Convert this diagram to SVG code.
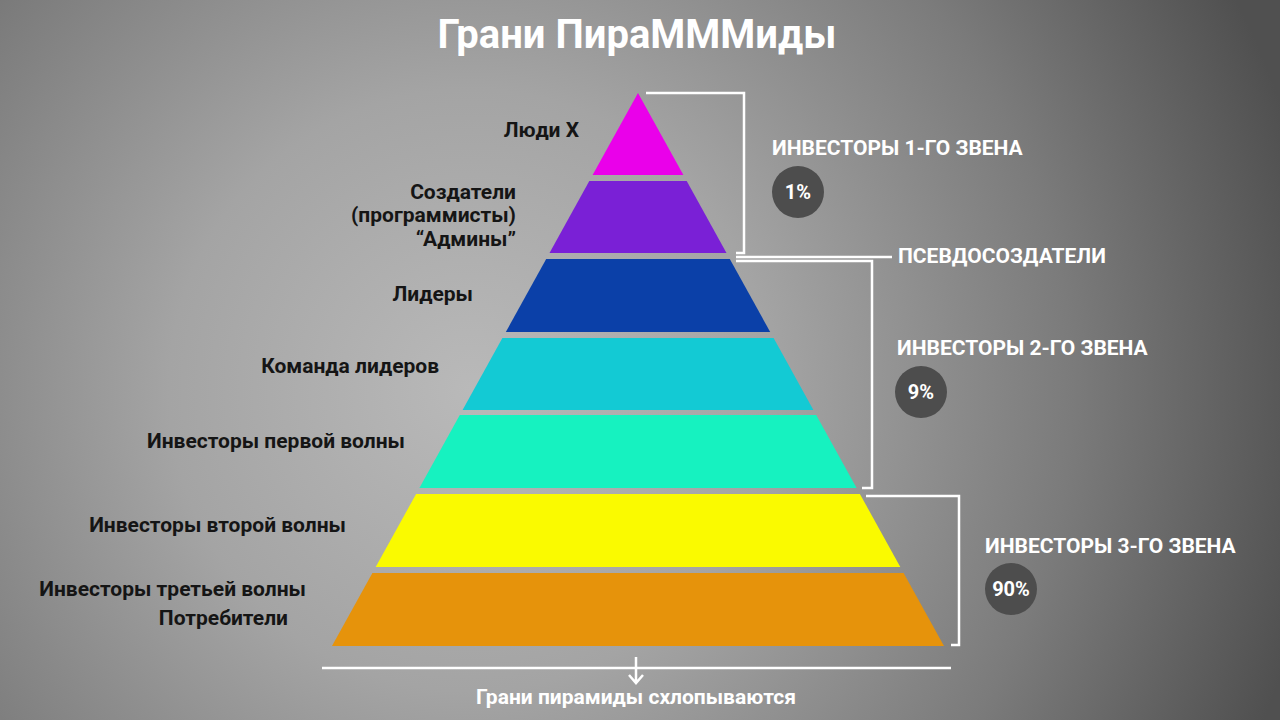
<svg xmlns="http://www.w3.org/2000/svg" width="1280" height="720" viewBox="0 0 1280 720">
  <defs>
    <radialGradient id="bg" gradientUnits="userSpaceOnUse" cx="470" cy="390" r="860">
      <stop offset="0" stop-color="#b9b9b9"/>
      <stop offset="0.35" stop-color="#a4a4a4"/>
      <stop offset="0.7" stop-color="#7b7b7b"/>
      <stop offset="1" stop-color="#505050"/>
    </radialGradient>
    <style>
      .lbl { font-family: Roboto, "Liberation Sans", sans-serif; font-weight: bold; font-size: 21px; fill: #151515; text-anchor: end; }
      .wl { font-family: Roboto, "Liberation Sans", sans-serif; font-weight: bold; font-size: 21px; fill: #ffffff; }
      .pct { font-family: Roboto, "Liberation Sans", sans-serif; font-weight: bold; font-size: 20px; fill: #ffffff; text-anchor: middle; }
      .circ { fill: #4d4d4d; }
      .br { fill: none; stroke: #ffffff; stroke-width: 2.5; }
    </style>
  </defs>
  <rect width="1280" height="720" fill="url(#bg)"/>

  <text x="637" y="48" font-family="Roboto, 'Liberation Sans', sans-serif" font-weight="bold" font-size="40" fill="#ffffff" text-anchor="middle">Грани ПираМММиды</text>

  <g id="pyramid">
    <g id="tier1"><polygon points="638,93 683.4,175 592.6,175" fill="#ea00ea"/></g>
    <g id="tier2"><polygon points="589.3,181 686.7,181 726.5,253 549.5,253" fill="#7a20d6"/></g>
    <g id="tier3"><polygon points="546.2,259 729.8,259 770.2,332 505.8,332" fill="#0b40a8"/></g>
    <g id="tier4"><polygon points="502.4,338 773.6,338 813.4,410 462.6,410" fill="#13cad4"/></g>
    <g id="tier5"><polygon points="459.8,415 816.2,415 856.6,488 419.4,488" fill="#16f2c0"/></g>
    <g id="tier6"><polygon points="416.1,494 859.9,494 900.3,567 375.7,567" fill="#fafa00"/></g>
    <g id="tier7"><polygon points="372.4,573 903.6,573 944,646 332,646" fill="#e6930b"/></g>
  </g>

  <g id="left-labels">
    <text class="lbl" x="579" y="137">Люди X</text>
    <text class="lbl" x="516" y="199">Создатели</text>
    <text class="lbl" x="516" y="222">(программисты)</text>
    <text class="lbl" x="516" y="246">“Админы”</text>
    <text class="lbl" x="473" y="301">Лидеры</text>
    <text class="lbl" x="439" y="373">Команда лидеров</text>
    <text class="lbl" x="405" y="448">Инвесторы первой волны</text>
    <text class="lbl" x="346" y="532">Инвесторы второй волны</text>
    <text class="lbl" x="306" y="596">Инвесторы третьей волны</text>
    <text class="lbl" x="288" y="625">Потребители</text>
  </g>

  <g id="connectors">
    <path class="br" d="M646,93 H744 V253 H736"/>
    <path class="br" d="M736,257 H892"/>
    <path class="br" d="M736,261 H872 V488 H862"/>
    <path class="br" d="M866,496 H959 V645 H951"/>
    <path class="br" stroke-width="2" d="M322,668 H951"/>
    <path class="br" stroke-width="2" d="M636,657 V683 M629,675 L636,683 L643,675"/>
  </g>

  <g id="tier-group-1">
    <text class="wl" x="772" y="155">ИНВЕСТОРЫ 1-ГО ЗВЕНА</text>
    <circle class="circ" cx="798" cy="192" r="26"/>
    <text class="pct" x="798" y="199">1%</text>
  </g>
  <g id="pseudo">
    <text class="wl" x="898" y="263">ПСЕВДОСОЗДАТЕЛИ</text>
  </g>
  <g id="tier-group-2">
    <text class="wl" x="897" y="355">ИНВЕСТОРЫ 2-ГО ЗВЕНА</text>
    <circle class="circ" cx="921" cy="392" r="26"/>
    <text class="pct" x="921" y="399">9%</text>
  </g>
  <g id="tier-group-3">
    <text class="wl" x="985" y="553">ИНВЕСТОРЫ 3-ГО ЗВЕНА</text>
    <circle class="circ" cx="1011" cy="589" r="26"/>
    <text class="pct" x="1011" y="596">90%</text>
  </g>

  <g id="footer">
    <text class="wl" x="636" y="704" text-anchor="middle">Грани пирамиды схлопываются</text>
  </g>
</svg>
